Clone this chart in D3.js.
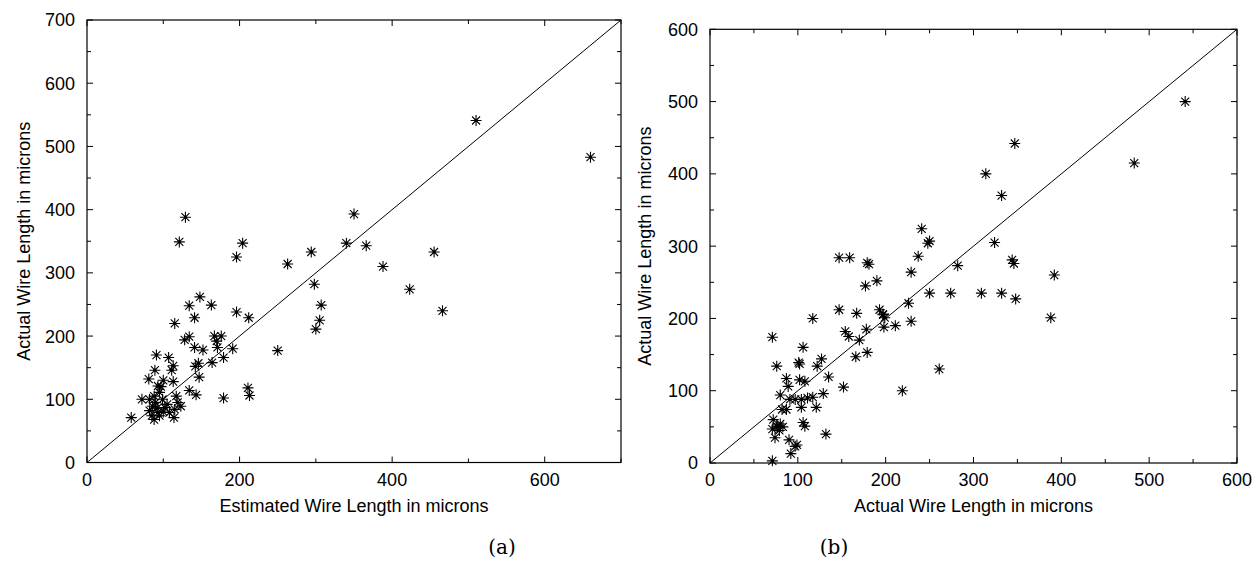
<!DOCTYPE html>
<html><head><meta charset="utf-8">
<script src="https://cdn.jsdelivr.net/npm/d3@7"></script>
<style>
html,body{margin:0;padding:0;background:#fff;}
text{font-family:"Liberation Sans",Arial,Helvetica,sans-serif;fill:#000;}
.cap{font-family:"DejaVu Serif","Liberation Serif",serif;}
</style></head>
<body>
<svg id="chart" width="1255" height="561"></svg>
<script>
// ---- Data (a): estimated vs actual wire length ----
const estA = [510,660,350,340,366,294,263,455,388,298,423,466,307,305,300,250,
  129,121,204,196,148,163,134,141,115,196,212,134,128,141,152,167,176,170,171,191,179,164,146,142,147,
  91,107,113,111,89,81,113,93,100,134,143,179,211,213,72,58,114,
  82,88,95,86,93,82,88,99,102,108,117,119,123,115,95,85,90,97,105,92,100];
const actA = [541,483,393,347,343,333,314,333,310,282,274,240,249,225,211,177,
  388,349,347,325,262,249,248,229,220,238,229,199,194,182,178,200,200,192,182,180,166,158,157,152,135,
  170,166,153,146,146,132,128,121,130,114,107,102,118,106,100,71,71,
  100,105,111,89,79,82,68,100,87,79,105,95,89,84,74,74,95,120,92,86,80];

// ---- Data (b): actual vs actual wire length ----
const xB = [541,483,347,314,332,241,250,248,237,229,282,324,344,346,392,250,274,309,332,348,388,226,229,197,211,198,261,219,
  147,159,179,181,190,177,147,167,193,197,199,178,154,158,170,166,179,71,106,127,102,76,117,
  101,122,135,152,87,102,108,80,89,91,97,104,111,117,129,104,121,82,87,72,76,80,83,71,74,106,108,132,90,99,97,92,71,77,79];
const yB = [500,415,442,400,370,324,307,304,286,264,273,305,281,276,260,235,235,235,235,227,201,221,196,205,190,188,130,100,
  284,284,277,275,252,245,212,207,212,206,201,185,182,175,170,147,153,174,160,144,137,134,200,
  139,134,119,105,117,115,113,94,106,88,88,88,90,91,96,77,77,74,74,60,51,54,50,47,35,56,51,40,32,25,23,13,3,50,45];

const ticksA_x = [0,100,200,300,400,500,600,700];
const labelsA_x = [0,200,400,600];
const ticksA_y = [0,50,100,150,200,250,300,350,400,450,500,550,600,650,700];
const labelsA_y = [0,100,200,300,400,500,600,700];
const ticksB = [0,50,100,150,200,250,300,350,400,450,500,550,600];
const labelsB = [0,100,200,300,400,500,600];

const titles = {
  ax: "Estimated Wire Length in microns",
  ay: "Actual Wire Length in microns",
  bx: "Actual Wire Length in microns",
  by: "Actual Wire Length in microns"
};

const svg = d3.select("#chart");
const FS = 18;

function panel(cfg){
  const x = d3.scaleLinear().domain([0,cfg.max]).range([cfg.x0,cfg.x1]);
  const y = d3.scaleLinear().domain([0,cfg.max]).range([cfg.y0,cfg.y1]);
  const g = svg.append("g");
  g.append("rect").attr("x",cfg.x0).attr("y",cfg.y1)
    .attr("width",cfg.x1-cfg.x0).attr("height",cfg.y0-cfg.y1)
    .attr("fill","none").attr("stroke","#000").attr("stroke-width",1.2);
  const tl = 6, tm = 4;
  cfg.xt.forEach(v=>{
    const L = cfg.xl.includes(v)?tl:tm;
    g.append("line").attr("x1",x(v)).attr("x2",x(v)).attr("y1",cfg.y0).attr("y2",cfg.y0-L).attr("stroke","#000");
    g.append("line").attr("x1",x(v)).attr("x2",x(v)).attr("y1",cfg.y1).attr("y2",cfg.y1+L).attr("stroke","#000");
  });
  cfg.yt.forEach(v=>{
    const L = cfg.yl.includes(v)?tl:tm;
    g.append("line").attr("y1",y(v)).attr("y2",y(v)).attr("x1",cfg.x0).attr("x2",cfg.x0+L).attr("stroke","#000");
    g.append("line").attr("y1",y(v)).attr("y2",y(v)).attr("x1",cfg.x1).attr("x2",cfg.x1-L).attr("stroke","#000");
  });
  g.selectAll(".xl").data(cfg.xl).join("text")
    .attr("x",d=>x(d)).attr("y",cfg.y0+23).attr("text-anchor","middle")
    .style("font-size",FS+"px").text(d=>d);
  g.selectAll(".yl").data(cfg.yl).join("text")
    .attr("x",cfg.x0-12).attr("y",d=>y(d)).attr("dy","0.36em").attr("text-anchor","end")
    .style("font-size",FS+"px").text(d=>d);
  g.append("text").attr("x",(cfg.x0+cfg.x1)/2).attr("y",cfg.y0+49).attr("text-anchor","middle")
    .style("font-size",FS+"px").text(cfg.tx);
  g.append("text").attr("transform",`translate(${cfg.ytx},${(cfg.y0+cfg.y1)/2}) rotate(-90)`)
    .attr("text-anchor","middle").attr("dy","0.36em")
    .style("font-size",FS+"px").text(cfg.ty);
  g.append("line").attr("x1",x(0)).attr("y1",y(0)).attr("x2",x(cfg.max)).attr("y2",y(cfg.max))
    .attr("stroke","#000").attr("stroke-width",1);
  const star = "M-5.5,0H5.5M0,-5.5V5.5M-4,-4L4,4M-4,4L4,-4";
  const pts = cfg.xs.map((d,i)=>[d,cfg.ys[i]]);
  g.selectAll(".pt").data(pts).join("path")
    .attr("d",star).attr("transform",d=>`translate(${x(d[0])},${y(d[1])})`)
    .attr("fill","none").attr("stroke","#000").attr("stroke-width",1.1);
  g.selectAll(".dot").data(pts).join("rect")
    .attr("x",d=>x(d[0])-1.3).attr("y",d=>y(d[1])-1.3).attr("width",2.6).attr("height",2.6).attr("fill","#000");
  svg.append("text").attr("class","cap").attr("x",cfg.capx).attr("y",554).attr("text-anchor","middle")
    .style("font-size","20px").text(cfg.cap);
}

panel({max:700,x0:87,x1:621,y0:462.5,y1:20,xt:ticksA_x,xl:labelsA_x,yt:ticksA_y,yl:labelsA_y,
  xs:estA,ys:actA,tx:titles.ax,ty:titles.ay,ytx:24,cap:"(a)",capx:502});
panel({max:600,x0:710,x1:1237,y0:463,y1:29.3,xt:ticksB,xl:labelsB,yt:ticksB,yl:labelsB,
  xs:xB,ys:yB,tx:titles.bx,ty:titles.by,ytx:645,cap:"(b)",capx:834});
</script>
</body></html>
